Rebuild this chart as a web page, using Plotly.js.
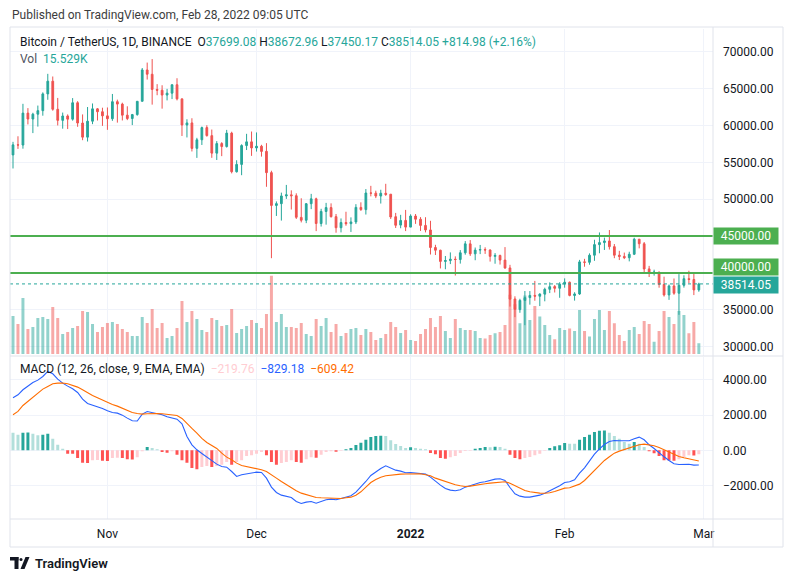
<!DOCTYPE html>
<html><head><meta charset="utf-8">
<script src="https://cdn.plot.ly/plotly-3.0.1.min.js"></script>
<style>html,body{margin:0;padding:0;background:#fff;}#chart{width:793px;height:582px;}</style>
</head><body><div id="chart"></div>
<script>
// ---- data (BTC/USDT daily, Binance) ----
const startDate = '2021-10-13';
const open = [
56006,57370,57347,61672,60875,61528,62006,64280,66001,62193,
60689,61286,60852,63079,60328,58413,60575,62253,61859,61300,
60911,63220,62896,61396,60941,61471,63274,67525,66941,64882,
64775,64123,64380,65520,63606,60059,60344,56892,58057,59707,
58618,56247,57541,57138,58960,53723,54716,57274,57776,56951,
57185,56485,53602,49152,49397,50441,50589,50471,47535,47141,
49389,50053,46702,48336,48864,47632,46134,46834,46681,46914,
48887,48588,50838,50821,50428,50802,50679,47623,46490,47120,
46216,47722,47286,46446,45832,43451,43082,41566,41680,41865,
41821,42735,43946,42592,43099,43172,43118,42250,42374,41744,
40680,36471,35030,36276,36654,36954,36841,37128,37780,38151,
37920,38481,38743,36944,37149,41501,41442,42406,43840,44118,
44338,43565,42407,42244,42064,42536,44578,43961,40552,40001,
40118,38432,37017,38237,37250,38328,39219,39116,37699.08];
const high = [
57777,58532,62933,62350,61720,62695,64486,67000,66639,63732,
61747,61500,63710,63293,61496,62499,62980,62359,62405,62437,
64270,63500,63086,62595,61560,63286,67789,68524,69000,65600,
65450,64960,65550,66401,63617,60840,60976,58320,59845,60029,
59444,57875,57735,59398,59150,55280,57445,58865,59176,59053,
57374,57600,53859,49699,50891,51936,51200,50797,50125,49485,
50724,50205,48700,49500,49436,47995,47392,48300,47537,49328,
49576,51375,51810,51156,51280,52088,50704,48143,47879,48549,
47954,47990,47570,47557,47070,43816,43145,42300,42786,42248,
43100,44322,44458,43448,43800,43475,43179,42691,42478,43505,
41100,36835,36499,37550,37545,38919,37234,38000,38720,38359,
38744,39265,38834,37387,41772,41913,42657,44500,45492,44792,
45821,43920,43000,42761,42876,44775,44578,44195,40959,40444,
40155,39494,38432,39249,39843,39683,40300,39855,38672.96];
const low = [
54167,56818,56850,60139,58963,59844,61322,63481,62000,60000,
59562,59510,60650,59817,58000,57820,60174,60673,59945,59405,
60624,60382,60677,60721,60050,61322,63273,66222,62822,64100,
62278,63400,63576,63400,58574,58373,56474,55600,57353,58486,
55610,55317,55837,57000,53500,53610,53256,56666,55875,56458,
55777,51680,42000,47727,47100,50039,48600,47320,46852,46751,
48653,45672,46290,46547,47511,45456,45500,46406,45558,46630,
48421,47920,50384,50142,49412,50449,47313,46096,46060,45678,
46208,46654,45696,45500,42500,42430,40610,40501,41200,39650,
41268,42474,42311,41725,42555,42581,41540,41250,41138,40553,
35440,34008,34601,32917,35701,36234,35507,36155,37268,37351,
36632,38000,36832,36250,37025,40843,41116,41645,42667,43117,
43174,42000,41748,41880,41571,42428,43334,40073,39450,39639,
38000,36800,36350,37036,34322,38014,38600,37000,37450.17];
const close = [
57367,57347,61672,60875,61528,62010,64280,66001,62193,60689,
61286,60852,63078,60328,58413,60575,62253,61859,61299,60911,
63219,62896,61395,60937,61470,63273,67525,66947,64882,64774,
64122,64380,65519,63606,60058,60344,56891,58052,59707,58622,
56247,57541,57138,58960,53726,54721,57274,57776,56951,57184,
56480,53601,49152,49397,50441,50588,50472,47545,47140,49389,
50053,46702,48343,48864,47632,46131,46834,46681,46914,48889,
48588,50838,50821,50429,50809,50640,47588,46464,47120,46216,
47722,47286,46446,45832,43451,43082,41566,41680,41864,41822,
42735,43949,42591,43099,43177,43113,42250,42375,41744,40680,
36445,35071,36276,36654,36954,36852,37138,37784,38138,37917,
38483,38743,36952,37154,41500,41441,42406,43841,44118,44339,
43565,42407,42244,42064,42535,44576,43961,40538,40000,40118,
38432,37017,38237,37250,38328,39219,39116,37700,38514.05];
const volumeK = [
55.2,43.6,81.3,36.3,39.2,52.3,53.7,50.8,68.2,52.3,
29.0,31.9,37.8,40.7,62.4,61.0,43.6,31.9,39.2,45.0,
46.5,43.6,36.3,31.9,26.1,26.1,53.7,45.0,65.3,37.8,
45.0,23.2,26.1,37.8,77.0,46.5,62.4,50.8,34.8,31.9,
52.3,49.4,40.7,42.1,65.3,30.5,36.3,40.7,49.4,45.0,
37.8,58.1,113.3,46.5,58.1,39.2,39.2,37.8,45.0,29.0,
26.1,50.8,40.7,52.3,31.9,43.6,26.1,30.5,36.3,37.8,
27.6,36.3,31.9,20.3,23.2,29.0,46.5,39.2,30.5,34.8,
20.3,18.9,29.0,36.3,52.3,39.2,55.2,33.4,23.2,50.8,
37.8,34.8,34.8,33.4,23.2,22.3,27.6,30.0,31.9,42.1,
86.0,72.0,44.5,85.0,49.4,69.7,54.2,42.1,27.6,21.3,
37.8,34.8,36.8,33.4,63.9,33.4,25.2,50.8,63.9,34.8,
62.4,44.5,27.6,18.9,34.8,39.2,29.0,47.9,43.6,17.9,
33.4,62.4,53.7,43.6,62.4,56.6,30.0,46.5,15.529];
const macdLine = [
2975,3145,3429,3655,3844,3976,4184,4467,4335,4033,
3806,3636,3485,3277,2900,2654,2560,2503,2371,2238,
2144,2106,1993,1823,1672,1660,2050,2201,2144,2087,
2012,1898,1842,1766,1502,784,312,28,-179,-387,
-595,-784,-916,-954,-1200,-1483,-1388,-1351,-1275,-1237,
-1256,-1577,-2087,-2390,-2541,-2616,-2673,-2900,-3013,-2937,
-2900,-2994,-2900,-2805,-2767,-2805,-2730,-2654,-2578,-2371,
-2087,-1766,-1426,-1218,-1030,-878,-1011,-1124,-1181,-1275,
-1256,-1275,-1294,-1351,-1521,-1766,-1974,-2163,-2257,-2295,
-2238,-2087,-1993,-1917,-1823,-1785,-1691,-1634,-1615,-1710,
-2106,-2465,-2597,-2654,-2650,-2616,-2541,-2427,-2295,-2144,
-2012,-1823,-1785,-1672,-1294,-992,-576,-217,85,331,
501,557,538,530,540,652,746,595,312,104,
-142,-368,-576,-765,-803,-784,-790,-841,-829.18];
const signalLine = [
2012,2201,2541,2767,3013,3240,3466,3617,3769,3806,
3810,3769,3693,3580,3429,3259,3107,2975,2843,2711,
2597,2503,2390,2257,2144,2087,2050,2070,2085,2085,
2070,2040,2000,1974,1804,1502,1237,973,671,444,
293,104,-161,-387,-538,-727,-860,-916,-992,-1030,
-1105,-1200,-1370,-1577,-1766,-1955,-2144,-2295,-2427,-2522,
-2597,-2673,-2692,-2711,-2730,-2745,-2730,-2692,-2654,-2541,
-2352,-2087,-1823,-1653,-1521,-1445,-1407,-1370,-1351,-1340,
-1332,-1325,-1330,-1388,-1445,-1577,-1672,-1785,-1880,-1955,
-2012,-2050,-2031,-1974,-1917,-1898,-1861,-1823,-1804,-1785,
-1861,-2012,-2163,-2276,-2352,-2408,-2427,-2430,-2408,-2333,
-2220,-2144,-2125,-2031,-1917,-1710,-1426,-1143,-860,-576,
-368,-161,-47,47,142,236,312,349,312,255,
161,28,-123,-255,-349,-425,-501,-557,-609.42];
const macdHist = [
1001,888,1001,1010,944,850,888,944,661,321,
94,-189,-200,-434,-699,-720,-567,-550,-590,-600,
-434,-420,-440,-510,-520,-397,-57,189,132,57,
-94,-132,-57,-246,-567,-699,-1001,-1077,-944,-888,
-944,-888,-812,-661,-812,-661,-567,-321,-283,-189,
-94,-283,-661,-812,-718,-661,-567,-661,-699,-510,
-397,-420,-246,-94,-57,-76,-19,57,132,302,
434,604,756,812,831,812,567,359,246,132,
170,132,94,57,-151,-227,-434,-472,-397,-321,
-151,-38,-19,94,132,189,180,195,185,94,
-246,-434,-510,-434,-378,-283,-189,-19,132,227,
283,416,378,370,604,756,888,1039,1115,1120,
1001,812,661,472,378,472,378,189,-57,-170,
-321,-567,-580,-590,-510,-378,-283,-300,-219.76];
const priceTicks = [30000,35000,40000,45000,50000,55000,60000,65000,70000];
const hiddenPriceTicks = [40000,45000];
const macdTicks = [-2000,0,2000,4000];
const monthTicks = ['2021-11-01','2021-12-01','2022-01-01','2022-02-01','2022-03-01'];
const monthLabels = ['Nov','Dec','<b>2022</b>','Feb','Mar'];
const levels = [45000,40000];
const lastPrice = 38514.05;
const header = {o:'37699.08', h:'38672.96', l:'37450.17', c:'38514.05', chg:'+814.98 (+2.16%)', vol:'15.529K'};
const macdLegend = {hist:'−219.76', macd:'−829.18', signal:'−609.42'};

// ---- build ----
const DAY = 86400000;
const d0 = new Date(startDate + 'T00:00:00Z').getTime();
const dates = close.map((_, i) => new Date(d0 + i * DAY).toISOString().slice(0, 10));

const UP = '#26a69a', DOWN = '#ef5350';
const volColors = close.map((c, i) => c >= open[i] ? 'rgba(38,166,154,0.5)' : 'rgba(239,83,80,0.5)');
const histColors = macdHist.map((h, i) => {
  const prev = i > 0 ? macdHist[i - 1] : null;
  if (h >= 0) return (prev !== null && h > prev) ? '#26a69a' : '#b2dfdb';
  return (prev !== null && h < prev) ? '#ff5252' : '#ffcdd2';
});
const fmt = v => (v < 0 ? '−' : '') + Math.abs(v).toFixed(2);

// pixel helpers (plot area: x 10..713, y 29..519)
const PX = X => (X - 10) / 703;
const PY = Y => (519 - Y) / 490;

const traces = [
  {type:'bar', x:dates, y:volumeK, marker:{color:volColors, line:{width:0}}, width:0.6*DAY,
   xaxis:'x', yaxis:'y', hoverinfo:'skip'},
  {type:'candlestick', x:dates, open:open, high:high, low:low, close:close,
   increasing:{line:{color:UP, width:1}, fillcolor:UP},
   decreasing:{line:{color:DOWN, width:1}, fillcolor:DOWN},
   whiskerwidth:0, xaxis:'x', yaxis:'y2', hoverinfo:'skip'},
  {type:'bar', x:dates, y:macdHist, marker:{color:histColors, line:{width:0}}, width:0.6*DAY,
   xaxis:'x', yaxis:'y3', hoverinfo:'skip'},
  {type:'scatter', mode:'lines', x:dates, y:macdLine, line:{color:'#2962ff', width:1.1},
   xaxis:'x', yaxis:'y3', hoverinfo:'skip'},
  {type:'scatter', mode:'lines', x:dates, y:signalLine, line:{color:'#ff6d00', width:1.1},
   xaxis:'x', yaxis:'y3', hoverinfo:'skip'}
];

const GRID = '#f0f3fa', BORDER = '#e0e3eb';
const shapes = [];
levels.forEach(v => shapes.push({type:'line', xref:'paper', x0:0, x1:1, yref:'y2', y0:v, y1:v,
  line:{color:'#4caf50', width:2}}));
shapes.push({type:'line', xref:'paper', x0:0, x1:1, yref:'y2', y0:lastPrice, y1:lastPrice,
  line:{color:UP, width:1, dash:'dot'}});
// frame
shapes.push({type:'rect', xref:'paper', yref:'paper', x0:PX(10), x1:PX(783), y0:PY(547), y1:PY(27),
  line:{color:BORDER, width:1}, fillcolor:'rgba(0,0,0,0)'});
shapes.push({type:'line', xref:'paper', yref:'paper', x0:1, x1:1, y0:PY(547), y1:PY(27), line:{color:BORDER, width:1}});
shapes.push({type:'line', xref:'paper', yref:'paper', x0:PX(10), x1:PX(783), y0:PY(356), y1:PY(356), line:{color:BORDER, width:1}});
shapes.push({type:'line', xref:'paper', yref:'paper', x0:PX(10), x1:PX(783), y0:PY(519), y1:PY(519), line:{color:BORDER, width:1}});
// TradingView logo (bottom left)
const LOGO = '#131722';
shapes.push({type:'rect', xref:'paper', yref:'paper', x0:PX(10), x1:PX(18.5), y0:PY(560.5), y1:PY(557), fillcolor:LOGO, line:{width:0}});
shapes.push({type:'rect', xref:'paper', yref:'paper', x0:PX(14.5), x1:PX(18.5), y0:PY(569), y1:PY(557), fillcolor:LOGO, line:{width:0}});
shapes.push({type:'circle', xref:'paper', yref:'paper', x0:PX(19.5), x1:PX(22.5), y0:PY(561), y1:PY(558), fillcolor:LOGO, line:{width:0}});
shapes.push({type:'path', xref:'paper', yref:'paper',
  path:`M ${PX(20.5)} ${PY(569)} L ${PX(25.5)} ${PY(557)} L ${PX(29.5)} ${PY(557)} L ${PX(24.5)} ${PY(569)} Z`,
  fillcolor:LOGO, line:{width:0}});

const TEAL = '#26a69a', TXT = '#131722';
const sp = (c, t) => `<span style="color:${c}">${t}</span>`;
const annotations = [
  {xref:'paper', yref:'paper', x:PX(10), y:PY(15), xanchor:'left', yanchor:'middle', showarrow:false,
   text:'Published on TradingView.com, Feb 28, 2022 09:05 UTC', font:{size:12, color:'#3c3c3c'}},
  {xref:'paper', yref:'paper', x:PX(18), y:PY(42), xanchor:'left', yanchor:'middle', showarrow:false,
   text:`Bitcoin / TetherUS, 1D, BINANCE&nbsp;&nbsp;O${sp(TEAL,header.o)} H${sp(TEAL,header.h)} L${sp(TEAL,header.l)} C${sp(TEAL,header.c)} ${sp(TEAL,header.chg)}`,
   font:{size:12, color:TXT}},
  {xref:'paper', yref:'paper', x:PX(18), y:PY(59), xanchor:'left', yanchor:'middle', showarrow:false,
   text:`Vol&nbsp;&nbsp;${sp(TEAL,header.vol)}`, font:{size:12, color:'#50535e'}},
  {xref:'paper', yref:'paper', x:PX(18), y:PY(369), xanchor:'left', yanchor:'middle', showarrow:false,
   text:`MACD (12, 26, close, 9, EMA, EMA)&nbsp;&nbsp;${sp('#ffcdd2',macdLegend.hist)}&nbsp;&nbsp;${sp('#2962ff',macdLegend.macd)}&nbsp;&nbsp;${sp('#ff6d00',macdLegend.signal)}`,
   font:{size:12, color:TXT}},
  {xref:'paper', yref:'paper', x:PX(33), y:PY(563), xanchor:'left', yanchor:'middle', showarrow:false,
   text:'TradingView', font:{size:13, color:TXT, weight:600}},
  {xref:'paper', x:1, xanchor:'left', yref:'y2', y:45000, yanchor:'middle', showarrow:false,
   text:'45000.00', bgcolor:'#4caf50', font:{size:12, color:'#fff'}, width:60, height:12, borderpad:2, align:'center'},
  {xref:'paper', x:1, xanchor:'left', yref:'y2', y:40000, yanchor:'middle', yshift:5.5, showarrow:false,
   text:'40000.00', bgcolor:'#4caf50', font:{size:12, color:'#fff'}, width:60, height:12, borderpad:2, align:'center'},
  {xref:'paper', x:1, xanchor:'left', yref:'y2', y:lastPrice, yanchor:'middle', yshift:-1, showarrow:false,
   text:lastPrice.toFixed(2), bgcolor:UP, font:{size:12, color:'#fff'}, width:60, height:12, borderpad:2, align:'center'}
];

const mainBottom = PY(355.5), macdTop = PY(356.5);
const layout = {
  width:793, height:582,
  margin:{l:10, r:80, t:29, b:63, pad:0},
  paper_bgcolor:'#ffffff', plot_bgcolor:'#ffffff',
  font:{family:'Roboto, "Liberation Sans", sans-serif', size:12, color:TXT},
  showlegend:false,
  boxgap:0.5,
  xaxis:{type:'date', range:['2021-10-12 09:30','2022-03-02 20:24'], anchor:'y3',
    tickvals:monthTicks, ticktext:monthLabels, showgrid:true, gridcolor:GRID, gridwidth:1,
    zeroline:false, showline:false, ticks:'', ticklabelstandoff:6,
    rangeslider:{visible:false}, fixedrange:true, tickfont:{size:12, color:TXT}},
  yaxis:{domain:[mainBottom,1], range:[-2.18,471.25], visible:false, fixedrange:true},
  yaxis2:{overlaying:'y', side:'right', anchor:'x', range:[28807,73078],
    tickvals:priceTicks, ticktext:priceTicks.map(v => hiddenPriceTicks.includes(v) ? '' : v.toFixed(2)),
    showgrid:true, gridcolor:GRID, zeroline:false, showline:false, ticks:'', ticklabelstandoff:9,
    tickfont:{size:12, color:TXT}, fixedrange:true},
  yaxis3:{domain:[0,macdTop], anchor:'x', side:'right', range:[-3892,5315],
    tickvals:macdTicks, ticktext:macdTicks.map(fmt),
    showgrid:true, gridcolor:GRID, zeroline:false, showline:false, ticks:'', ticklabelstandoff:9,
    tickfont:{size:12, color:TXT}, fixedrange:true},
  shapes:shapes,
  annotations:annotations
};

Plotly.newPlot('chart', traces, layout, {displayModeBar:false, staticPlot:true});
</script>
</body></html>
